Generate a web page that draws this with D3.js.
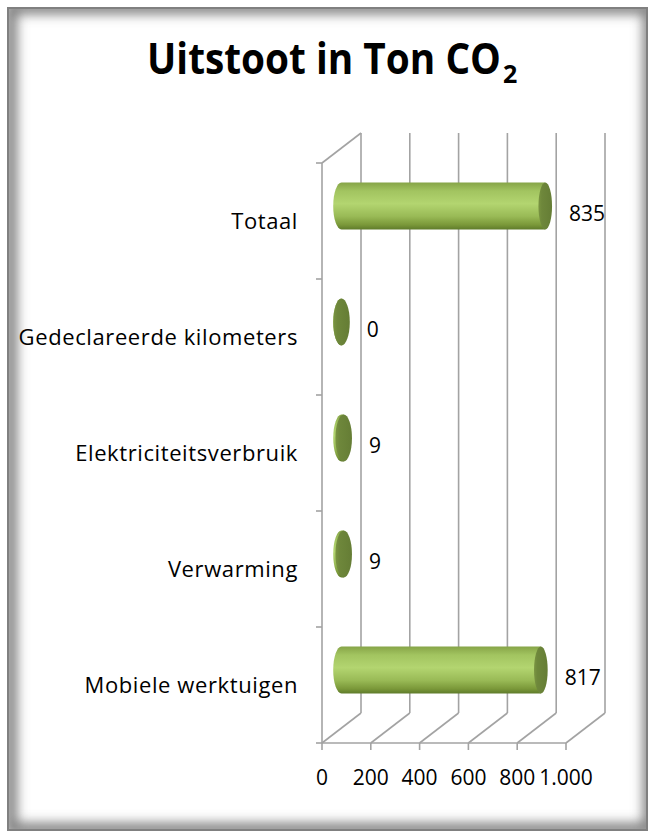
<!DOCTYPE html>
<html>
<head>
<meta charset="utf-8">
<script src="https://cdn.jsdelivr.net/npm/d3@7/dist/d3.min.js"></script>
<style>
html,body{margin:0;padding:0;background:#fff;}
svg{display:block;}
</style>
</head>
<body>
<script>
// ---- data ----
const categories = ["Totaal", "Gedeclareerde kilometers", "Elektriciteitsverbruik", "Verwarming", "Mobiele werktuigen"];
const values = [835, 0, 9, 9, 817];
const tickValues = [0, 200, 400, 600, 800, 1000];
const tickLabels = ["0", "200", "400", "600", "800", "1.000"];
const titleMain = "Uitstoot in Ton CO";
const titleSub = "2";

const W = 650, H = 834;
const svg = d3.select("body").append("svg").attr("width", W).attr("height", H);
const defs = svg.append("defs");

// frame with inner shadow
defs.append("clipPath").attr("id", "frameClip")
  .append("rect").attr("x", 7).attr("y", 7).attr("width", 641).attr("height", 824);
defs.append("filter").attr("id", "blur").attr("x", "-10%").attr("y", "-10%").attr("width", "120%").attr("height", "120%")
  .append("feGaussianBlur").attr("stdDeviation", 6);
svg.append("rect").attr("x", 7).attr("y", 7).attr("width", 641).attr("height", 824).attr("fill", "#fff");
svg.append("g").attr("clip-path", "url(#frameClip)")
  .append("rect").attr("x", 7 + 4).attr("y", 7 + 1).attr("width", 641 - 3).attr("height", 824 - 3)
  .attr("fill", "none").attr("stroke", "#7a7a7a").attr("stroke-width", 12).attr("filter", "url(#blur)");
svg.append("rect").attr("x", 8).attr("y", 8).attr("width", 639).attr("height", 822)
  .attr("fill", "none").attr("stroke", "#808080").attr("stroke-width", 2);

// gradients
const bodyGrad = defs.append("linearGradient").attr("id", "bodyGrad").attr("x1", 0).attr("y1", 0).attr("x2", 0).attr("y2", 1);
[[0, "#86a447"], [0.18, "#a2c460"], [0.45, "#b3d570"], [0.72, "#99ba56"], [0.9, "#7a9839"], [1, "#5f7b2b"]]
  .forEach(([o, c]) => bodyGrad.append("stop").attr("offset", o).attr("stop-color", c));
const capGrad = defs.append("linearGradient").attr("id", "capGrad").attr("x1", 0).attr("y1", 0).attr("x2", 1).attr("y2", 0);
[[0, "#7a9442"], [0.25, "#6e873b"], [1, "#657d35"]]
  .forEach(([o, c]) => capGrad.append("stop").attr("offset", o).attr("stop-color", c));

// scales
const x = d3.scaleLinear().domain([0, 1000]).range([322, 566]);
const y = d3.scaleBand().domain(categories).range([163, 743]);
const depth = {dx: 39, dy: -30};
const rxScale = d3.scaleLinear().domain([0, 1000]).range([8.3, 6.5]);
const ry = 23.5;

const font = "'Open Sans', 'Liberation Sans', sans-serif";
const grid = svg.append("g").attr("stroke", "#a3a3a3").attr("stroke-width", 1.6).attr("fill", "none");

// back wall verticals + floor diagonals
tickValues.forEach(t => {
  const fx = x(t);
  grid.append("line").attr("x1", fx + depth.dx).attr("x2", fx + depth.dx)
    .attr("y1", y.range()[0] + depth.dy).attr("y2", y.range()[1] + depth.dy);
  grid.append("line").attr("x1", fx).attr("y1", y.range()[1])
    .attr("x2", fx + depth.dx).attr("y2", y.range()[1] + depth.dy);
  grid.append("line").attr("x1", fx).attr("x2", fx).attr("y1", y.range()[1]).attr("y2", y.range()[1] + 7);
});
// left wall
grid.append("line").attr("x1", x(0)).attr("x2", x(0)).attr("y1", y.range()[0]).attr("y2", y.range()[1]);
grid.append("line").attr("x1", x(0)).attr("y1", y.range()[0]).attr("x2", x(0) + depth.dx).attr("y2", y.range()[0] + depth.dy);
// front floor line
grid.append("line").attr("x1", x(0)).attr("x2", x(1000)).attr("y1", y.range()[1]).attr("y2", y.range()[1]);
// left ticks
const bounds = categories.map(c => y(c)).concat([y.range()[1]]);
bounds.forEach(b => grid.append("line").attr("x1", x(0) - 6).attr("x2", x(0)).attr("y1", b).attr("y2", b));

// tick labels
svg.append("g").selectAll("text").data(tickValues).join("text")
  .attr("x", d => x(d)).attr("y", 785).attr("text-anchor", "middle")
  .attr("font-family", font).attr("font-size", 21).attr("fill", "#000")
  .text((d, i) => tickLabels[i]);

// category labels
svg.append("g").selectAll("text").data(categories).join("text")
  .attr("x", 298).attr("y", d => y(d) + y.bandwidth() / 2 + 8).attr("text-anchor", "end")
  .attr("font-family", font).attr("font-size", 22).attr("letter-spacing", 0.6).attr("fill", "#000")
  .text(d => d);

// cylinders (mid depth)
const mdx = depth.dx / 2, mdy = depth.dy / 2;
const bars = svg.append("g");
categories.forEach((c, i) => {
  const v = values[i];
  const cy = y(c) + y.bandwidth() / 2 + mdy;
  const x0 = x(0) + mdx, x1 = x(v) + mdx;
  const rx0 = rxScale(0), rx1 = rxScale(v);
  const g = bars.append("g");
  const p = d3.path();
  p.moveTo(x0, cy - ry);
  p.lineTo(x1, cy - ry);
  p.lineTo(x1, cy + ry);
  p.lineTo(x0, cy + ry);
  g.append("path")
    .attr("d", p.toString() + ` A ${rx0} ${ry} 0 0 1 ${x0} ${cy - ry} Z`)
    .attr("fill", "url(#bodyGrad)");
  g.append("ellipse").attr("cx", x1).attr("cy", cy).attr("rx", rx1).attr("ry", ry)
    .attr("fill", "url(#capGrad)");
  svg.append("text").attr("x", x1 + rx1 + 17).attr("y", cy + 15)
    .attr("font-family", font).attr("font-size", 21).attr("fill", "#000")
    .text(d3.format(",")(v).replace(/,/g, "."));
});

// title: main part horizontally condensed via transform, subscript separate
const titleG = svg.append("g");
const mainT = titleG.append("text").attr("x", 0).attr("y", 0)
  .attr("font-family", font).attr("font-weight", "bold").attr("font-size", 43).attr("fill", "#000")
  .text(titleMain);
const natW = mainT.node().getComputedTextLength();
const targetW = 354;
mainT.attr("transform", `translate(147,74) scale(${targetW / natW},1)`);
titleG.append("text").attr("x", 503).attr("y", 83)
  .attr("font-family", font).attr("font-weight", "bold").attr("font-size", 25).attr("fill", "#000")
  .text(titleSub);
</script>
</body>
</html>
